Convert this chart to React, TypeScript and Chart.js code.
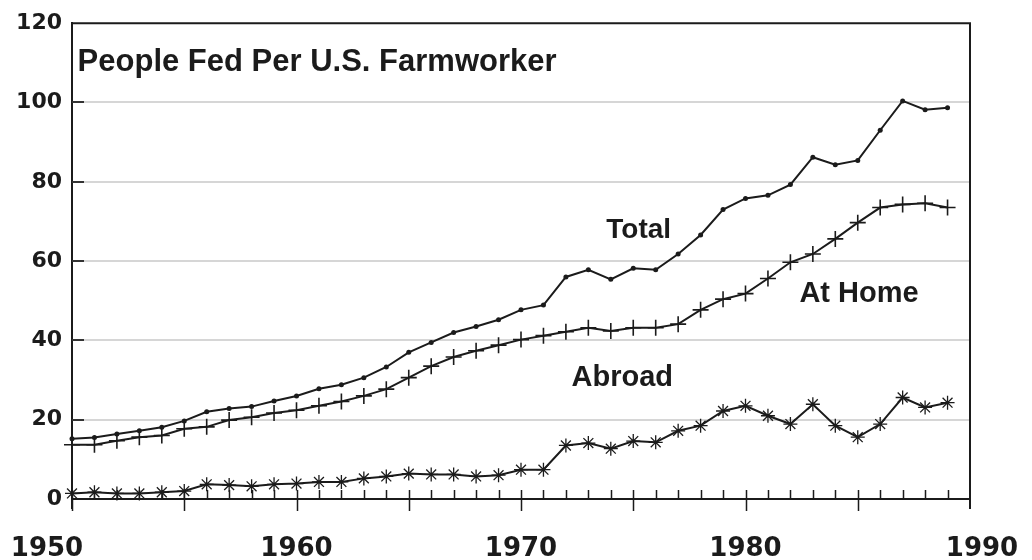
import { useEffect, useRef } from 'react';
import { Chart, registerables } from 'chart.js';

Chart.register(...registerables);

const years = [
  1950, 1951, 1952, 1953, 1954, 1955, 1956, 1957, 1958, 1959,
  1960, 1961, 1962, 1963, 1964, 1965, 1966, 1967, 1968, 1969,
  1970, 1971, 1972, 1973, 1974, 1975, 1976, 1977, 1978, 1979,
  1980, 1981, 1982, 1983, 1984, 1985, 1986, 1987, 1988, 1989,
];

const totalValues = [
  15.2, 15.5, 16.4, 17.2, 18.1, 19.7, 22.0, 22.8, 23.3, 24.7,
  26.0, 27.8, 28.8, 30.6, 33.3, 37.0, 39.5, 42.0, 43.5, 45.2,
  47.7, 48.9, 56.0, 57.8, 55.4, 58.2, 57.8, 61.8, 66.6, 73.0,
  75.8, 76.6, 79.3, 86.2, 84.3, 85.4, 93.0, 100.4, 98.2, 98.7,
];

const atHomeValues = [
  13.7, 13.7, 14.7, 15.6, 16.0, 17.7, 18.2, 19.9, 20.6, 21.7,
  22.4, 23.5, 24.6, 26.0, 27.7, 30.6, 33.5, 35.8, 37.4, 38.8,
  40.2, 41.2, 42.2, 43.2, 42.4, 43.2, 43.2, 44.1, 47.7, 50.4,
  51.8, 55.6, 59.7, 61.8, 65.6, 69.7, 73.5, 74.3, 74.6, 73.5,
];

const abroadValues = [
  1.4, 1.7, 1.4, 1.4, 1.7, 2.0, 3.7, 3.5, 3.2, 3.7,
  3.9, 4.3, 4.3, 5.2, 5.7, 6.4, 6.2, 6.2, 5.7, 6.0,
  7.4, 7.4, 13.5, 14.1, 12.7, 14.6, 14.3, 17.2, 18.5, 22.2,
  23.5, 21.0, 18.9, 23.9, 18.5, 15.6, 18.9, 25.6, 23.1, 24.3,
];

const decadeLabels = ['1950', '1960', '1970', '1980', '1990'];
const decadeValues = [1950, 1960, 1970, 1980, 1990];

// text annotations anchored in data units: [text, x(year), y(value), font]
const annotations: Array<[string, number, number, string]> = [
  ['People Fed Per U.S. Farmworker', 1950.25, 108, 'bold 31px "Liberation Sans", Arial, sans-serif'],
  ['Total', 1973.8, 65.7, 'bold 28px "Liberation Sans", Arial, sans-serif'],
  ['At Home', 1982.4, 49.7, 'bold 29px "Liberation Sans", Arial, sans-serif'],
  ['Abroad', 1972.25, 28.5, 'bold 29px "Liberation Sans", Arial, sans-serif'],
];

const INK = '#1b1b1b';

const decorPlugin = {
  id: 'decor',
  afterDraw(chart: any) {
    const { ctx, chartArea, scales } = chart;
    const { left, right, top, bottom } = chartArea;
    const x = scales.x;
    const y = scales.y;
    ctx.save();
    ctx.strokeStyle = INK;
    ctx.lineWidth = 2;
    ctx.lineCap = 'butt';
    ctx.beginPath();
    ctx.moveTo(left, top);
    ctx.lineTo(right, top);
    ctx.lineTo(right, bottom + 10);
    ctx.moveTo(left, bottom);
    ctx.lineTo(left, bottom + 10);
    ctx.stroke();

    ctx.lineWidth = 1.5;
    ctx.beginPath();
    years.forEach((yr) => {
      const px = Math.round(x.getPixelForValue(yr)) + 0.5;
      const major = yr % 5 === 0;
      ctx.moveTo(px, bottom - 9);
      ctx.lineTo(px, major ? bottom + 12 : bottom);
    });
    ctx.stroke();

    ctx.lineWidth = 2;
    ctx.strokeStyle = '#333';
    ctx.beginPath();
    [20, 40, 60, 80, 100].forEach((v) => {
      const py = Math.round(y.getPixelForValue(v));
      ctx.moveTo(left, py);
      ctx.lineTo(left + 12, py);
    });
    ctx.stroke();

    ctx.fillStyle = INK;
    ctx.font = 'bold 26px "DejaVu Sans", sans-serif';
    ctx.textBaseline = 'alphabetic';
    decadeLabels.forEach((lab, i) => {
      const px = x.getPixelForValue(decadeValues[i]);
      let cx = px;
      if (i === 0) cx = px - 25;
      if (i === decadeLabels.length - 1) cx = px + 12;
      ctx.textAlign = 'center';
      ctx.fillText(lab, cx, bottom + 57);
    });

    ctx.textAlign = 'left';
    annotations.forEach(([text, ax, ay, font]) => {
      ctx.font = font;
      ctx.fillText(text, x.getPixelForValue(ax), y.getPixelForValue(ay));
    });
    ctx.restore();
  },
};

export default function App() {
  const canvasRef = useRef<HTMLCanvasElement | null>(null);

  useEffect(() => {
    document.body.style.margin = '0';
    const canvas = canvasRef.current;
    if (!canvas) return;
    const toXY = (vals: number[]) => vals.map((v, i) => ({ x: years[i], y: v }));
    const chart = new Chart(canvas, {
      type: 'line',
      data: {
        datasets: [
          {
            label: 'Total',
            data: toXY(totalValues),
            borderColor: INK,
            backgroundColor: INK,
            borderWidth: 2,
            pointStyle: 'circle',
            pointRadius: 2.5,
            pointBorderWidth: 0,
            tension: 0,
            clip: false as any,
          },
          {
            label: 'At Home',
            data: toXY(atHomeValues),
            borderColor: INK,
            backgroundColor: INK,
            borderWidth: 2,
            pointStyle: 'cross',
            pointRadius: 8,
            pointBorderWidth: 1.6,
            tension: 0,
            clip: false as any,
          },
          {
            label: 'Abroad',
            data: toXY(abroadValues),
            borderColor: INK,
            backgroundColor: INK,
            borderWidth: 2,
            pointStyle: 'star',
            pointRadius: 7,
            pointBorderWidth: 1.3,
            tension: 0,
            clip: false as any,
          },
        ],
      },
      options: {
        animation: false,
        responsive: false,
        devicePixelRatio: 1,
        layout: { padding: { top: 18, right: 62, left: 0, bottom: 0 } },
        plugins: {
          legend: { display: false },
          tooltip: { enabled: false },
        },
        scales: {
          x: {
            type: 'linear',
            min: 1950,
            max: 1990,
            grid: { display: false },
            border: { display: true, color: INK, width: 2 },
            ticks: { display: false },
            afterFit: (scale: any) => {
              scale.height = 61;
            },
          },
          y: {
            min: 0,
            max: 120,
            ticks: {
              stepSize: 20,
              color: INK,
              padding: 10,
              font: { family: '"DejaVu Sans", sans-serif', size: 22, weight: 'bold' },
            },
            grid: {
              drawTicks: false,
              lineWidth: 2,
              color: (c: any) =>
                c.tick && (c.tick.value === 0 || c.tick.value === 120) ? 'rgba(0,0,0,0)' : '#d6d6d6',
            },
            border: { display: true, color: INK, width: 2 },
            afterFit: (scale: any) => {
              scale.width = 72;
            },
          },
        },
      },
      plugins: [decorPlugin],
    });
    return () => chart.destroy();
  }, []);

  return (
    <div style={{ position: 'fixed', left: 0, top: 0, width: 1032, height: 560, background: '#fff' }}>
      <canvas ref={canvasRef} width={1032} height={560} />
    </div>
  );
}
